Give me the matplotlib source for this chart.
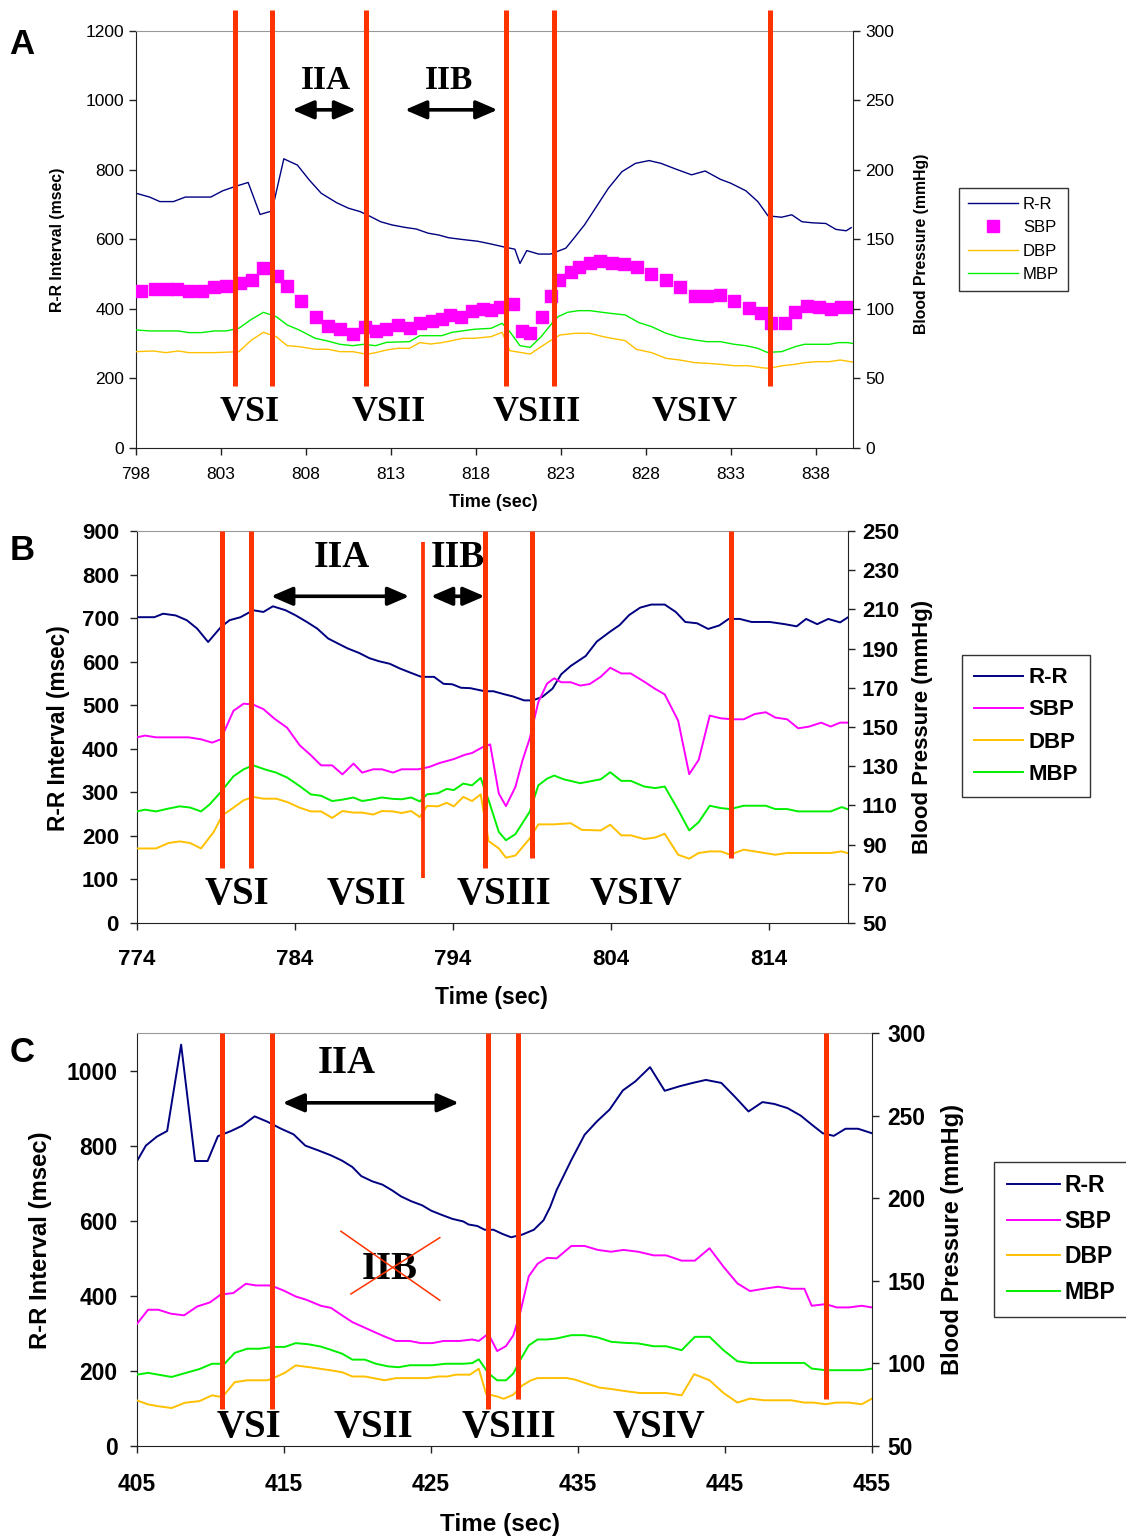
import matplotlib
matplotlib.use('Agg')
import matplotlib.pyplot as plt
from matplotlib.lines import Line2D

plt.rcParams['font.family'] = ['Liberation Sans', 'DejaVu Sans']

RR_COL = '#000080'
SBP_COL = '#FF00FF'
DBP_COL = '#FFC000'
MBP_COL = '#00F000'
MARK_COL = '#FF3300'
SERIF = ['Liberation Serif', 'DejaVu Serif']

# ---------------- panel A ----------------
a_rr_t = [798.0, 798.8, 799.4, 800.2, 800.9, 802.4, 803.1, 803.8, 804.6, 805.3,
          806.0, 806.7, 807.5, 808.2, 808.9, 809.8, 810.5, 811.2, 811.8, 812.4,
          813.05, 813.8, 814.5, 815.2, 815.8, 816.4, 817.2, 818.1, 818.8, 819.7,
          820.3, 820.6, 821.0, 821.7, 822.4, 823.3, 823.8, 824.4, 825.2, 825.8,
          826.6, 827.4, 828.2, 828.9, 829.8, 830.7, 831.5, 832.4, 833.0, 833.9,
          834.6, 835.2, 836.0, 836.6, 837.2, 837.8, 838.6, 839.2, 839.8, 840.1]
a_rr = [733, 722, 709, 709, 722, 722, 740, 752, 764, 672,
        682, 832, 814, 771, 733, 706, 690, 680, 666, 651,
        642, 635, 630, 618, 613, 605, 600, 595, 588, 578,
        572, 531, 568, 558, 558, 575, 605, 642, 702, 747,
        795, 819, 827, 819, 802, 786, 797, 773, 762, 740,
        709, 668, 664, 671, 651, 648, 646, 629, 625, 634]

a_sbp_t = [798.3, 799.1, 799.8, 800.4, 801.1, 801.9, 802.6, 803.3, 804.1, 804.8,
           805.5, 806.3, 806.9, 807.7, 808.6, 809.3, 810.0, 810.8, 811.5, 812.1,
           812.7, 813.4, 814.1, 814.7, 815.4, 816.0, 816.5, 817.1, 817.8, 818.4,
           818.9, 819.4, 820.2, 820.7, 821.2, 821.9, 822.4, 822.9, 823.6, 824.1,
           824.7, 825.3, 826.0, 826.7, 827.5, 828.3, 829.2, 830.0, 830.9, 831.6,
           832.4, 833.2, 834.1, 834.8, 835.4, 836.2, 836.8, 837.5, 838.2, 838.9,
           839.5, 840.2]
a_sbp = [113.2, 114.6, 114.6, 114.6, 113.2, 113.2, 115.6, 116.8, 118.5, 120.9,
         129.3, 123.7, 116.8, 106.0, 94.5, 87.8, 85.9, 82.0, 86.8, 84.4,
         85.4, 88.5, 86.1, 89.7, 91.6, 92.6, 95.7, 94.5, 98.8, 99.8,
         99.3, 101.2, 103.6, 84.2, 82.5, 94.5, 109.4, 120.9, 126.9, 130.5,
         133.3, 134.5, 133.3, 132.4, 130.5, 124.9, 120.9, 115.6, 109.4, 109.4,
         110.3, 106.0, 100.5, 96.9, 90.2, 89.7, 98.1, 102.2, 101.2, 99.8,
         101.2, 101.2]

a_mbp_t = [798.0, 798.8, 800.5, 801.1, 801.85, 802.6, 803.3, 804.05, 804.8, 805.5,
           806.25, 806.9, 807.6, 808.55, 809.2, 810.0, 810.75, 811.4, 812.1, 812.75,
           814.1, 814.7, 816.0, 816.6, 817.9, 818.9, 819.55, 820.0, 820.6, 821.2,
           821.85, 822.5, 822.85, 823.4, 824.05, 824.7, 825.9, 826.8, 827.6, 828.35,
           829.2, 830.0, 830.9, 831.6, 832.4, 833.2, 833.9, 834.6, 835.15, 836.0,
           836.8, 837.35, 838.8, 839.35, 839.9, 840.4]
a_mbp = [84.9, 84.2, 84.2, 83.0, 83.0, 84.2, 84.2, 86.1, 92.6, 97.6,
         94.5, 88.5, 84.9, 78.9, 77.2, 74.6, 73.6, 74.6, 73.6, 76.0,
         76.5, 80.8, 80.8, 83.2, 85.4, 86.1, 89.7, 83.7, 73.6, 72.4,
         80.1, 90.0, 94.5, 97.6, 98.8, 98.8, 96.9, 95.7, 90.2, 87.3,
         82.5, 79.6, 77.7, 76.5, 76.5, 74.6, 73.6, 71.7, 68.8, 69.3,
         72.9, 74.6, 74.6, 75.8, 75.8, 74.8]

a_dbp_t = [798.0, 799.0, 799.75, 800.5, 801.1, 802.6, 804.05, 804.8, 805.5, 806.25,
           806.9, 807.6, 808.55, 809.3, 810.0, 810.75, 811.6, 812.1, 812.75, 813.4,
           814.1, 814.7, 815.35, 816.0, 816.5, 817.25, 817.9, 818.9, 819.55, 820.0,
           821.2, 821.85, 822.3, 822.95, 823.85, 824.7, 825.5, 826.0, 826.8, 827.45,
           828.35, 829.2, 830.0, 830.9, 831.65, 832.4, 833.2, 834.05, 834.8, 835.25,
           836.05, 836.8, 837.35, 838.1, 838.8, 839.45, 840.4]
a_dbp = [69.3, 69.8, 68.6, 69.8, 68.6, 68.6, 69.3, 77.7, 83.2, 80.1,
         73.6, 72.9, 71.0, 71.0, 69.3, 69.3, 67.4, 68.6, 70.5, 71.7,
         71.7, 75.8, 74.8, 75.8, 77.0, 78.9, 78.9, 80.1, 83.2, 70.0,
         67.6, 72.9, 76.5, 81.3, 82.5, 82.5, 80.1, 78.9, 77.2, 71.0,
         68.6, 64.5, 63.3, 61.4, 60.9, 60.2, 59.2, 59.2, 57.8, 57.3,
         59.2, 60.2, 61.4, 62.1, 62.1, 63.3, 61.4]

a_marks = [803.8, 806.0, 811.55, 819.8, 822.6, 835.3]
a_mark_lo = [177, 177, 177, 177, 177, 177]
a_mark_hi = [1260, 1260, 1260, 1260, 1260, 1260]

# ---------------- panel B ----------------
b_rr_t = [774.0, 775.1, 775.65, 776.45, 777.15, 777.8, 778.5, 779.3, 779.85, 780.55,
          781.35, 782.0, 782.6, 783.4, 784.05, 784.75, 785.4, 786.1, 786.8, 787.35,
          788.05, 788.7, 789.3, 790.0, 790.65, 791.35, 792.0, 792.8, 793.4, 793.95,
          794.5, 795.1, 796.0, 796.55, 797.25, 797.8, 798.5, 799.05, 799.65, 800.3,
          800.85, 801.45, 802.4, 803.1, 803.95, 804.55, 805.15, 805.85, 806.55, 807.4,
          808.1, 808.7, 809.45, 810.15, 810.85, 811.45, 812.15, 812.9, 814.05, 815.0,
          815.75, 816.35, 817.05, 817.75, 818.5, 819.05]
b_rr = [702, 702, 710, 706, 695, 676, 645, 679, 695, 702,
        718, 714, 727, 718, 706, 691, 676, 653, 640, 630,
        620, 608, 601, 595, 584, 574, 565, 565, 549, 548,
        540, 539, 532, 532, 525, 520, 511, 511, 519, 538,
        571, 590, 613, 646, 669, 684, 707, 724, 731, 731,
        714, 691, 688, 675, 683, 698, 698, 691, 691, 686,
        681, 698, 686, 698, 690, 703]

b_sbp_t = [774.0, 774.5, 775.2, 777.25, 778.05, 778.75, 779.3, 780.1, 780.75, 781.35,
           782.0, 782.7, 783.5, 784.3, 785.0, 785.65, 786.35, 787.0, 787.7, 788.25,
           788.95, 789.5, 790.2, 790.75, 791.8, 792.5, 793.15, 794.05, 794.75, 795.2,
           795.9, 796.35, 796.9, 797.35, 797.95, 798.4, 798.85, 799.4, 799.95, 800.4,
           800.85, 801.45, 802.05, 802.65, 803.35, 803.95, 804.65, 805.25, 806.1, 806.8,
           807.4, 808.25, 808.95, 809.55, 810.25, 810.95, 811.7, 812.4, 813.1, 813.8,
           814.4, 815.15, 815.85, 816.55, 817.3, 817.9, 818.5, 819.1]
b_sbp = [144.7, 145.6, 144.7, 144.7, 143.7, 142.0, 143.7, 158.2, 161.9, 161.4,
         159.1, 154.2, 149.6, 140.6, 135.6, 130.4, 130.4, 125.8, 131.3, 126.7,
         128.4, 128.4, 126.7, 128.4, 128.4, 129.6, 131.6, 133.6, 135.8, 136.7,
         139.8, 141.1, 116.0, 109.6, 119.4, 133.0, 144.0, 162.7, 172.1, 174.8,
         172.8, 172.8, 171.1, 171.9, 175.6, 180.2, 177.3, 177.3, 173.1, 169.4,
         166.6, 153.2, 125.9, 133.2, 155.8, 154.4, 153.9, 153.9, 156.6, 157.5,
         154.8, 153.9, 149.3, 150.2, 152.2, 150.2, 152.2, 152.2]

b_mbp_t = [774.0, 774.5, 775.2, 775.9, 776.7, 777.35, 778.05, 778.6, 779.3, 780.1,
           780.75, 781.35, 782.15, 782.8, 783.5, 784.3, 785.0, 785.65, 786.35, 787.0,
           787.7, 788.25, 788.95, 789.5, 790.2, 790.75, 791.35, 791.9, 792.35, 793.05,
           793.6, 794.05, 794.65, 795.2, 795.75, 796.25, 796.9, 797.35, 797.95, 798.85,
           799.4, 799.95, 800.4, 801.0, 802.05, 802.65, 803.35, 803.95, 804.65, 805.25,
           806.1, 806.8, 807.4, 808.25, 808.95, 809.55, 810.25, 810.95, 811.55, 812.4,
           813.8, 814.4, 815.15, 815.85, 817.9, 818.6, 819.2]
b_mbp = [106.9, 107.8, 106.9, 108.2, 109.5, 108.9, 106.9, 110.5, 116.8, 124.8,
         128.4, 130.4, 128.2, 126.7, 124.2, 119.8, 115.6, 114.9, 112.2, 112.9,
         114.0, 112.2, 113.1, 114.0, 113.3, 113.1, 114.0, 112.0, 115.6, 116.2,
         118.4, 117.8, 121.1, 120.2, 124.0, 112.7, 96.4, 92.2, 95.3, 106.7,
         120.2, 123.6, 125.2, 123.3, 121.3, 122.2, 123.3, 126.9, 122.5, 122.5,
         119.6, 118.8, 119.6, 107.7, 97.2, 101.4, 109.8, 108.6, 108.1, 109.8,
         109.8, 108.1, 108.1, 106.9, 106.9, 109.1, 107.4]

b_dbp_t = [774.0, 775.2, 776.0, 776.7, 777.35, 778.05, 778.85, 779.4, 780.1, 780.75,
           781.35, 782.0, 782.8, 783.5, 784.3, 785.0, 785.65, 786.35, 787.0, 787.7,
           788.25, 788.95, 789.5, 790.2, 790.75, 791.35, 791.9, 792.35, 793.05, 793.6,
           794.05, 794.65, 795.2, 795.75, 796.25, 796.9, 797.35, 797.95, 798.85, 799.4,
           800.4, 801.45, 802.15, 803.35, 803.95, 804.65, 805.25, 806.1, 806.8, 807.4,
           808.25, 808.95, 809.55, 810.25, 810.95, 811.55, 812.4, 814.4, 815.15, 817.9,
           818.6, 819.2]
b_dbp = [88.0, 88.0, 90.8, 91.6, 90.8, 88.0, 96.4, 104.9, 108.8, 112.6,
         114.3, 113.4, 113.4, 111.7, 108.8, 106.9, 106.9, 103.6, 107.1, 106.3,
         106.3, 105.3, 107.1, 106.9, 106.1, 107.1, 104.0, 109.7, 109.5, 111.3,
         109.5, 114.3, 112.2, 115.6, 91.8, 88.0, 83.3, 84.4, 93.0, 100.3,
         100.3, 100.9, 97.5, 97.2, 100.1, 94.7, 94.7, 92.8, 93.6, 95.5,
         84.8, 82.8, 85.7, 86.5, 86.5, 84.8, 87.4, 84.8, 85.7, 85.7,
         86.5, 85.1]

b_marks = [779.35, 781.2, 792.1, 796.05, 799.0, 811.6]
b_mark_lo = [126, 126, 103, 126, 149, 150]
b_mark_hi = [900, 900, 874, 900, 900, 900]

# ---------------- panel C ----------------
c_rr_t = [405.0, 405.6, 406.35, 407.05, 408.0, 408.95, 409.8, 410.5, 411.4, 412.15,
          413.0, 413.85, 414.8, 415.65, 416.45, 417.35, 418.2, 418.95, 419.65, 420.25,
          421.0, 421.7, 422.35, 422.95, 423.65, 424.4, 425.0, 425.7, 426.45, 427.2,
          427.55, 428.15, 428.65, 429.25, 429.85, 430.45, 431.2, 432.0, 432.65, 433.1,
          433.55, 434.55, 435.45, 436.3, 437.15, 438.05, 438.9, 439.9, 440.9, 441.9,
          442.8, 443.7, 444.75, 445.7, 446.6, 447.55, 448.35, 449.25, 450.15, 450.9,
          451.65, 452.4, 453.2, 454.05, 455.0]
c_rr = [759, 800, 824, 839, 1069, 759, 759, 825, 839, 853,
        878, 864, 845, 830, 800, 787, 774, 760, 743, 719,
        705, 696, 681, 665, 652, 641, 627, 616, 605, 598,
        590, 586, 576, 576, 565, 556, 563, 576, 601, 636,
        682, 762, 829, 865, 896, 947, 971, 1009, 946, 958,
        967, 975, 967, 929, 891, 916, 911, 900, 880, 856,
        833, 826, 845, 845, 833]

c_sbp_t = [405.0, 405.75, 406.45, 407.3, 408.2, 409.1, 409.95, 410.7, 411.55, 412.4,
           413.1, 414.1, 414.95, 415.8, 416.5, 417.5, 418.2, 418.95, 419.65, 420.4,
           421.25, 421.95, 422.6, 423.55, 424.3, 425.1, 425.85, 426.95, 427.8, 428.25,
           428.9, 429.5, 430.1, 430.6, 431.05, 431.65, 432.25, 432.9, 433.55, 434.55,
           435.45, 436.35, 437.25, 438.1, 439.1, 440.15, 441.0, 442.05, 442.95, 443.95,
           444.9, 445.85, 446.7, 447.65, 448.6, 449.5, 450.4, 450.9, 451.85, 452.6,
           453.45, 454.3, 455.0]
c_sbp = [124.0, 132.5, 132.5, 130.1, 129.1, 134.5, 136.9, 141.7, 142.6, 148.2,
         147.2, 147.2, 144.2, 140.5, 138.6, 134.9, 133.6, 129.1, 125.0, 122.0,
         118.6, 115.9, 113.6, 113.6, 112.3, 112.3, 113.6, 113.6, 114.5, 113.6,
         118.0, 107.5, 110.5, 117.0, 130.1, 152.7, 160.3, 163.9, 163.6, 171.1,
         171.1, 168.7, 167.6, 168.7, 167.6, 165.4, 165.4, 162.2, 162.2, 169.7,
         158.5, 148.4, 143.8, 145.2, 146.4, 145.2, 145.2, 134.9, 135.9, 133.9,
         133.9, 134.9, 133.9]

c_mbp_t = [405.0, 405.75, 406.45, 407.35, 408.25, 409.25, 410.1, 410.95, 411.65, 412.5,
           413.35, 414.2, 415.05, 415.8, 416.65, 417.5, 418.2, 418.95, 419.65, 420.5,
           421.25, 422.1, 422.8, 423.55, 425.1, 425.95, 427.2, 427.8, 428.25, 428.9,
           429.5, 430.1, 430.6, 431.05, 431.65, 432.25, 432.9, 433.55, 434.55, 435.45,
           436.35, 437.25, 438.1, 439.1, 440.15, 441.0, 442.05, 442.95, 443.95, 444.9,
           445.85, 446.7, 447.65, 450.4, 450.9, 451.85, 454.3, 455.0]
c_mbp = [93.2, 94.3, 93.2, 91.8, 94.1, 96.6, 99.8, 99.8, 106.4, 108.9,
         108.9, 110.0, 110.0, 112.3, 111.6, 110.2, 108.2, 105.9, 102.3, 102.3,
         99.8, 98.2, 97.7, 98.9, 98.9, 99.8, 99.8, 100.2, 102.5, 94.1,
         89.8, 89.8, 93.9, 101.8, 110.9, 114.5, 114.5, 115.1, 117.1, 117.1,
         115.7, 113.1, 112.5, 112.1, 110.4, 110.4, 108.0, 116.1, 116.1, 108.0,
         101.3, 100.3, 100.3, 100.3, 96.9, 95.9, 95.9, 96.9]

c_dbp_t = [405.0, 405.75, 406.45, 407.35, 408.25, 409.25, 410.1, 410.8, 411.65, 412.5,
           413.85, 414.2, 415.05, 415.8, 416.75, 418.2, 418.95, 419.65, 420.5, 421.85,
           422.6, 424.75, 425.5, 426.1, 426.7, 427.65, 428.25, 428.75, 429.5, 429.95,
           430.6, 431.2, 431.8, 432.25, 434.2, 434.8, 435.6, 436.45, 437.35, 438.25,
           439.2, 441.0, 442.05, 442.9, 443.95, 444.9, 445.85, 446.7, 447.65, 449.5,
           450.4, 451.0, 451.85, 452.55, 453.45, 454.3, 455.0]
c_dbp = [77.6, 75.2, 74.1, 73.0, 76.2, 77.2, 80.7, 79.6, 88.7, 89.8,
         89.8, 90.8, 94.3, 98.8, 97.7, 95.8, 94.7, 92.1, 92.1, 89.8,
         91.1, 91.1, 92.1, 92.1, 93.2, 93.2, 96.8, 81.6, 80.0, 78.6,
         81.1, 86.6, 89.8, 91.1, 91.2, 90.2, 87.8, 85.4, 84.4, 83.2,
         82.1, 82.1, 80.7, 93.5, 89.8, 82.1, 76.3, 78.7, 77.7, 77.7,
         76.3, 76.3, 75.3, 76.3, 76.3, 75.3, 78.7]

c_marks = [410.8, 414.15, 428.9, 430.95, 451.85]
c_mark_lo = [99, 99, 99, 124, 124]
c_mark_hi = [1100, 1100, 1100, 1100, 1100]

stage_names = ['VSI', 'VSII', 'VSIII', 'VSIV']
series_names = ['R-R', 'SBP', 'DBP', 'MBP']


def setup_axes(ax, ax2, xlim, xticks, ylim, yticks, ylim2, yticks2,
               tick_size, bold, pads):
    weight = 'bold' if bold else 'normal'
    ax.set_xlim(*xlim)
    ax.set_ylim(*ylim)
    ax2.set_ylim(*ylim2)
    ax.set_xticks(xticks)
    ax.set_yticks(yticks)
    ax2.set_yticks(yticks2)
    for a in (ax, ax2):
        a.tick_params(direction='out', length=5, width=1, colors='#222222',
                      labelsize=tick_size, labelcolor='black')
        for lab in a.get_xticklabels() + a.get_yticklabels():
            lab.set_fontweight(weight)
    ax.tick_params(axis='x', pad=pads[0])
    ax.tick_params(axis='y', pad=pads[1])
    ax2.tick_params(axis='y', pad=pads[2])
    ax.spines['top'].set_color('#999999')
    ax.spines['right'].set_visible(False)
    for side in ('top', 'left', 'bottom'):
        ax2.spines[side].set_visible(False)
    for side in ('left', 'bottom'):
        ax.spines[side].set_color('#222222')
    ax2.spines['right'].set_color('#222222')


def set_labels(ax, ax2, sizes, coords):
    ax.set_xlabel('Time (sec)', fontsize=sizes[0], fontweight='bold', va='center')
    ax.xaxis.set_label_coords(*coords[0])
    ax.set_ylabel('R-R Interval (msec)', fontsize=sizes[1], fontweight='bold', va='center')
    ax.yaxis.set_label_coords(*coords[1])
    ax2.set_ylabel('Blood Pressure (mmHg)', fontsize=sizes[2], fontweight='bold', va='center')
    ax2.yaxis.set_label_coords(*coords[2])


def draw_marks(ax, ax2, xs, lows, highs, widths):
    for x, lo, hi, w in zip(xs, lows, highs, widths):
        ax2.plot([x, x], [lo, hi], color=MARK_COL, lw=w, solid_capstyle='butt',
                 transform=ax.transData, clip_on=False, zorder=10)


def put_text(ax, ax2, x, y, s, size):
    ax2.text(x, y, s, transform=ax.transData, ha='center', va='center',
             fontsize=size, fontweight='bold', family=SERIF, zorder=11)


def put_arrow(ax, ax2, x0, x1, y):
    ax2.annotate('', xy=(x1, y), xytext=(x0, y), xycoords=ax.transData,
                 textcoords=ax.transData,
                 arrowprops=dict(arrowstyle='<|-|>,head_length=0.65,head_width=0.28',
                                 color='black', lw=2.6, mutation_scale=20,
                                 shrinkA=0, shrinkB=0), zorder=11)


def add_legend(fig, ax2, handles, center, size, bold, hlen, spacing, tpad):
    prop = {'size': size, 'weight': 'bold' if bold else 'normal'}
    leg = ax2.legend(handles, series_names, loc='center', bbox_to_anchor=center,
                     bbox_transform=fig.transFigure, prop=prop, frameon=True,
                     fancybox=False, edgecolor='black', handlelength=hlen,
                     labelspacing=spacing, borderpad=0.55, handletextpad=tpad,
                     borderaxespad=0)
    leg.get_frame().set_linewidth(1.0)


def panel_a(fig):
    ax = fig.add_axes([0.1208, 0.7089, 0.6367, 0.2710])
    ax2 = ax.twinx()
    ax.plot(a_rr_t, a_rr, color=RR_COL, lw=1.0)
    ax2.plot(a_sbp_t, a_sbp, 's', color=SBP_COL, ms=8, mec=SBP_COL)
    ax2.plot(a_dbp_t, a_dbp, color=DBP_COL, lw=1.0)
    ax2.plot(a_mbp_t, a_mbp, color=MBP_COL, lw=1.0)
    setup_axes(ax, ax2, (798, 840.2), range(798, 839, 5), (0, 1200), range(0, 1201, 200),
               (0, 300), range(0, 301, 50), 12.5, False, (8.5, 3.5, 4.0))
    set_labels(ax, ax2, (13, 11.4, 11.3),
               [(0.499, -0.1295), (-0.110, 0.5), (1.096, 0.49)])

    draw_marks(ax, ax2, a_marks, a_mark_lo, a_mark_hi, [3.6] * 6)
    for x, s in zip([804.68, 812.85, 821.6, 830.87], stage_names):
        put_text(ax, ax2, x, 103, s, 26)
    put_text(ax, ax2, 809.2, 1056, 'IIA', 24)
    put_text(ax, ax2, 816.45, 1056, 'IIB', 24)
    put_arrow(ax, ax2, 807.2, 810.96, 973)
    put_arrow(ax, ax2, 813.83, 819.28, 973)

    handles = [Line2D([], [], color=RR_COL, lw=1.0),
               Line2D([], [], color=SBP_COL, marker='s', ls='none', ms=8),
               Line2D([], [], color=DBP_COL, lw=1.0),
               Line2D([], [], color=MBP_COL, lw=1.0)]
    add_legend(fig, ax2, handles, (0.9001, 0.8444), 12, False, 3.0, 0.5, 0.3)
    fig.text(0.0195, 0.9708, 'A', fontsize=25, fontweight='bold', ha='center', va='center')


def panel_b(fig):
    ax = fig.add_axes([0.1217, 0.4003, 0.6314, 0.2547])
    ax2 = ax.twinx()
    ax.plot(b_rr_t, b_rr, color=RR_COL, lw=1.4)
    ax2.plot(b_sbp_t, b_sbp, color=SBP_COL, lw=1.4)
    ax2.plot(b_dbp_t, b_dbp, color=DBP_COL, lw=1.4)
    ax2.plot(b_mbp_t, b_mbp, color=MBP_COL, lw=1.4)
    setup_axes(ax, ax2, (774, 819.0), range(774, 815, 10), (0, 900), range(0, 901, 100),
               (50, 250), range(50, 251, 20), 16, True, (13.5, 8.0, 5.0))
    set_labels(ax, ax2, (16.5, 16.3, 16.0),
               [(0.499, -0.191), (-0.111, 0.497), (1.105, 0.5)])

    draw_marks(ax, ax2, b_marks, b_mark_lo, b_mark_hi, [3.6, 3.6, 2.7, 3.6, 3.6, 3.6])
    for x, s in zip([780.3, 788.55, 797.25, 805.6], stage_names):
        put_text(ax, ax2, x, 66, s, 28)
    put_text(ax, ax2, 786.95, 838, 'IIA', 27)
    put_text(ax, ax2, 794.3, 838, 'IIB', 27)
    put_arrow(ax, ax2, 782.48, 791.23, 750)
    put_arrow(ax, ax2, 792.6, 796.0, 750)

    handles = ax.get_lines()[:1] + ax2.get_lines()[:3]
    add_legend(fig, ax2, handles, (0.9112, 0.5283), 16, True, 2.2, 0.5, 0.25)
    fig.text(0.0195, 0.6426, 'B', fontsize=25, fontweight='bold', ha='center', va='center')


def panel_c(fig):
    ax = fig.add_axes([0.1217, 0.0604, 0.6527, 0.2684])
    ax2 = ax.twinx()
    ax.plot(c_rr_t, c_rr, color=RR_COL, lw=1.4)
    ax2.plot(c_sbp_t, c_sbp, color=SBP_COL, lw=1.4)
    ax2.plot(c_dbp_t, c_dbp, color=DBP_COL, lw=1.4)
    ax2.plot(c_mbp_t, c_mbp, color=MBP_COL, lw=1.4)
    setup_axes(ax, ax2, (405, 455), range(405, 456, 10), (0, 1100), range(0, 1001, 200),
               (50, 300), range(50, 301, 50), 16.5, True, (14.5, 9.0, 6.0))
    set_labels(ax, ax2, (17.5, 17.2, 17.0),
               [(0.494, -0.189), (-0.132, 0.499), (1.109, 0.499)])

    draw_marks(ax, ax2, c_marks, c_mark_lo, c_mark_hi, [3.6] * 5)
    for x, s in zip([412.64, 421.1, 430.33, 440.5], stage_names):
        put_text(ax, ax2, x, 50, s, 28)
    put_text(ax, ax2, 419.3, 1020, 'IIA', 28)
    put_arrow(ax, ax2, 414.9, 426.9, 914)
    put_text(ax, ax2, 422.2, 470, 'IIB', 28)
    # IIB phase is absent here, so its label is struck through
    ax2.plot([418.87, 425.6], [572, 388], color=MARK_COL, lw=1.1,
             transform=ax.transData, zorder=12)
    ax2.plot([419.55, 425.6], [405, 555], color=MARK_COL, lw=1.1,
             transform=ax.transData, zorder=12)

    handles = ax.get_lines()[:1] + ax2.get_lines()[:3]
    add_legend(fig, ax2, handles, (0.9423, 0.1949), 16.5, True, 2.3, 0.55, 0.2)
    fig.text(0.0195, 0.3164, 'C', fontsize=25, fontweight='bold', ha='center', va='center')


def main():
    fig = plt.figure(figsize=(11.26, 15.39), dpi=100)
    panel_a(fig)
    panel_b(fig)
    panel_c(fig)
    fig.savefig('out.png', dpi=100)


if __name__ == "__main__":
    main()
